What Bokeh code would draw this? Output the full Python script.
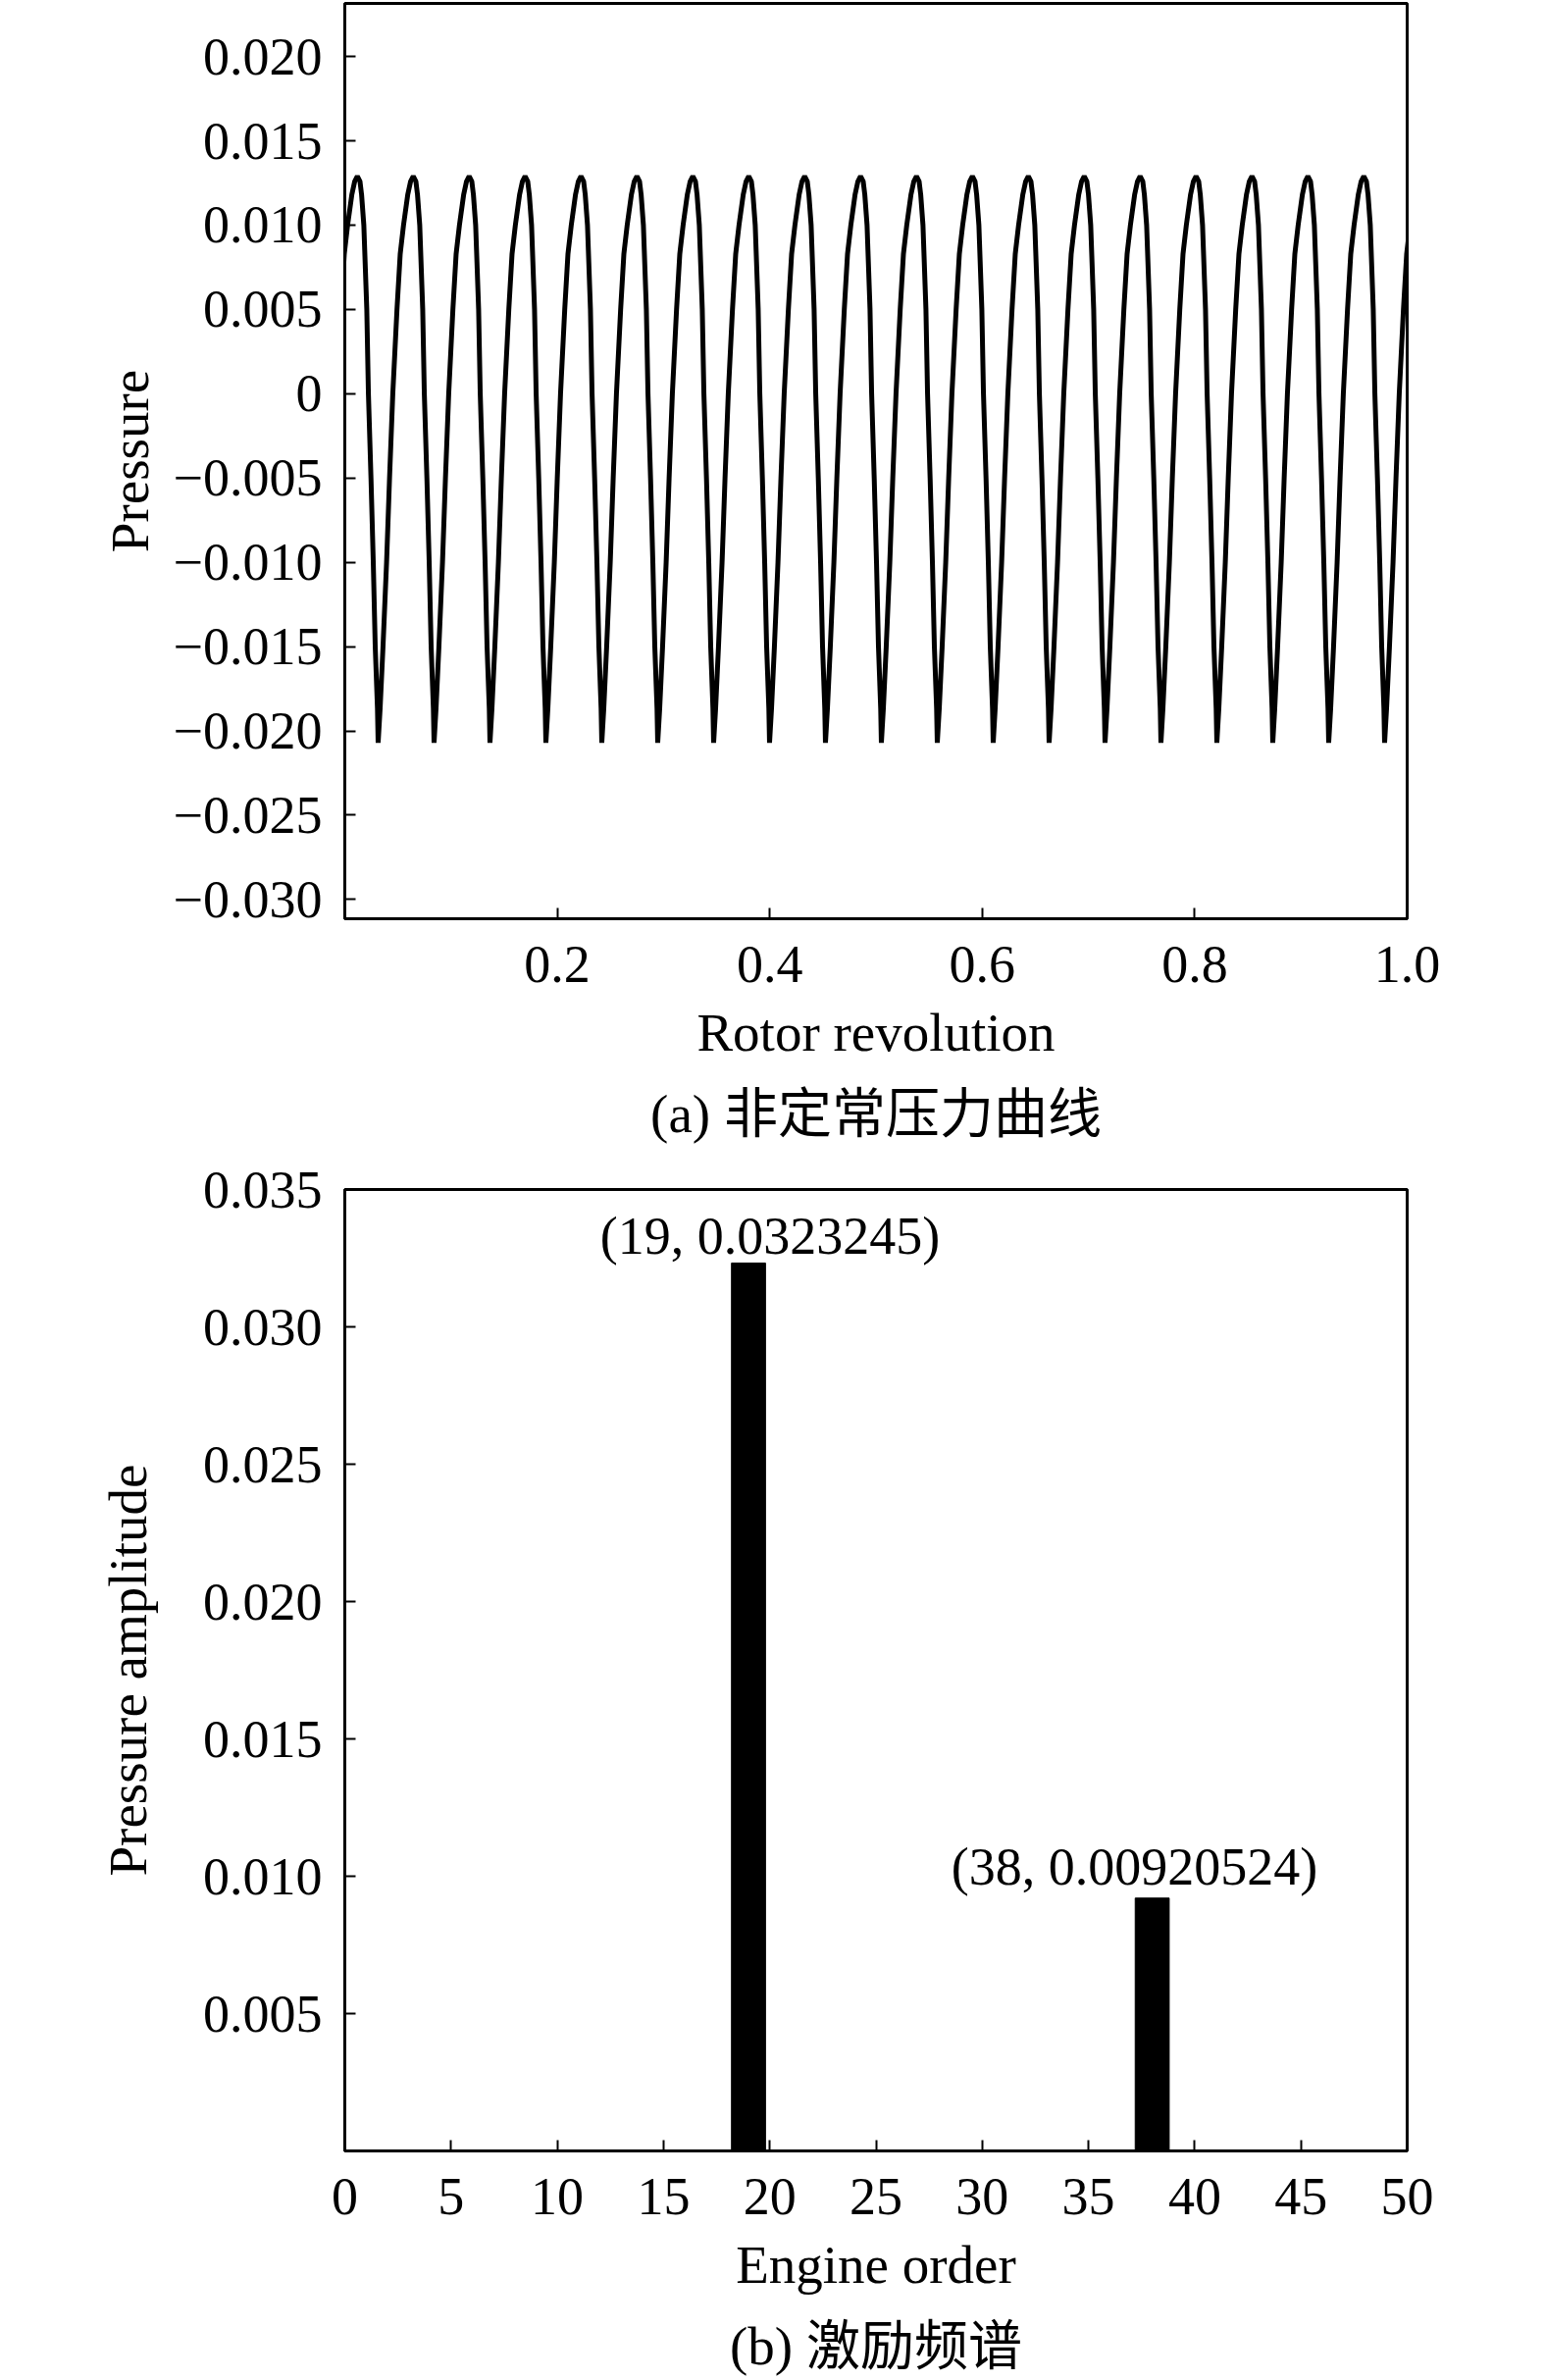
from bokeh.plotting import figure
from bokeh.layouts import column
from bokeh.models import Range1d, FixedTicker, LinearAxis, ColumnDataSource
from bokeh.embed import file_html
from bokeh.resources import INLINE
from bokeh.core.properties import value

# ---------------- data: (a) unsteady pressure over one rotor revolution ----------------
n_periods = 19                      # blade-passing periods per revolution
first_peak_rev = 0.0118             # rotor revolution of the first pressure peak
# one period of the pressure wave (phase 0 = peak)
cycle_phase = [0.000, 0.047, 0.076, 0.116, 0.169, 0.198, 0.244, 0.285, 0.320, 0.360,
               0.372, 0.407, 0.459, 0.523, 0.576, 0.634, 0.709, 0.767, 0.826, 0.901, 0.953]
cycle_pressure = [0.0129, 0.0126, 0.0118, 0.0100, 0.0050, 0.0000, -0.0050, -0.0100, -0.0150, -0.0187,
                  -0.0207, -0.0187, -0.0150, -0.0100, -0.0050, 0.0000, 0.0050, 0.0083, 0.0100, 0.0118, 0.0126]

pressure_ticks = [0.020, 0.015, 0.010, 0.005, 0.0, -0.005, -0.010, -0.015, -0.020, -0.025, -0.030]
pressure_tick_labels = ["0.020", "0.015", "0.010", "0.005", "0", "\u22120.005", "\u22120.010",
                        "\u22120.015", "\u22120.020", "\u22120.025", "\u22120.030"]
revolution_ticks = [0.2, 0.4, 0.6, 0.8, 1.0]
revolution_tick_labels = ["0.2", "0.4", "0.6", "0.8", "1.0"]

# ---------------- data: (b) excitation spectrum ----------------
engine_order = [19, 38]
amplitude = [0.0323245, 0.00920524]
amp_ticks = [0.005, 0.010, 0.015, 0.020, 0.025, 0.030, 0.035]
amp_tick_labels = ["0.005", "0.010", "0.015", "0.020", "0.025", "0.030", "0.035"]
order_ticks = [0, 5, 10, 15, 20, 25, 30, 35, 40, 45, 50]
order_tick_labels = ["0", "5", "10", "15", "20", "25", "30", "35", "40", "45", "50"]

caption_a = "(a) 非定常压力曲线"
caption_b = "(b) 激励频谱"

# ---------------- styling ----------------
SERIF = "Liberation Serif"
MIXED = "Liberation Serif, Noto Sans CJK SC"
TICK_FS = "54px"
LABEL_FS = "55px"
W = 1559
H_A = 1168
H_B = 2426 - H_A


def style_axis(ax, ticks, labels):
    ax.ticker = FixedTicker(ticks=ticks)
    ax.major_label_overrides = {t: l for t, l in zip(ticks, labels)}
    ax.major_label_text_font = SERIF
    ax.major_label_text_font_size = TICK_FS
    ax.major_label_text_color = "black"
    ax.axis_label_text_font = SERIF
    ax.axis_label_text_font_size = LABEL_FS
    ax.axis_label_text_font_style = "normal"
    ax.axis_label_text_color = "black"
    ax.axis_line_color = "black"
    ax.axis_line_width = 3
    ax.major_tick_line_color = "black"
    ax.major_tick_line_width = 2
    ax.major_tick_in = 11
    ax.major_tick_out = 0
    ax.minor_tick_line_color = None


def caption_axis(text):
    ax = LinearAxis(axis_label=text)
    ax.ticker = FixedTicker(ticks=[])
    ax.axis_line_color = None
    ax.major_tick_line_color = None
    ax.minor_tick_line_color = None
    ax.axis_label_text_font = MIXED
    ax.axis_label_text_font_size = LABEL_FS
    ax.axis_label_text_font_style = "normal"
    ax.axis_label_text_color = "black"
    ax.axis_label_standoff = 19
    return ax


def base_fig(height, xr, yr, top, bottom):
    p = figure(width=W, height=height, x_range=xr, y_range=yr,
               output_backend="svg", toolbar_location=None,
               min_border_left=351, min_border_right=W - 1434,
               min_border_top=top, min_border_bottom=bottom)
    p.background_fill_color = "white"
    p.border_fill_color = "white"
    p.outline_line_color = "black"
    p.outline_line_width = 3
    p.xgrid.visible = False
    p.ygrid.visible = False
    return p


# ---------------- (a) ----------------
rev, pres = [], []
for k in range(-1, n_periods + 1):
    for ph, pv in zip(cycle_phase, cycle_pressure):
        rev.append(first_peak_rev + (k + ph) / n_periods)
        pres.append(pv)

pa = base_fig(H_A, Range1d(0, 1.0), Range1d(-0.03114, 0.02315), 3, H_A - 944)
pa.line(rev, pres, line_color="black", line_width=5)
style_axis(pa.xaxis[0], revolution_ticks, revolution_tick_labels)
style_axis(pa.yaxis[0], pressure_ticks, pressure_tick_labels)
pa.xaxis[0].axis_label = "Rotor revolution"
pa.yaxis[0].axis_label = "Pressure"
pa.xaxis[0].major_label_standoff = 28
pa.xaxis[0].axis_label_standoff = 18
pa.yaxis[0].major_label_standoff = 23
pa.yaxis[0].axis_label_standoff = 11
pa.add_layout(caption_axis(caption_a), "below")

# ---------------- (b) ----------------
pb = base_fig(H_B, Range1d(0, 50), Range1d(0, 0.035), 1212 - H_A, 2426 - 2192)
src = ColumnDataSource(dict(order=engine_order, amp=amplitude,
                            txt=["(%s, %s)" % (o, a) for o, a in zip(engine_order, amplitude)],
                            dx=[22, -18], dy=[-27, -32]))
pb.vbar(x="order", top="amp", bottom=0, width=1.6, source=src,
        fill_color="black", line_color="black")
pb.text(x="order", y="amp", text="txt", source=src, x_offset="dx", y_offset="dy",
        text_align="center", text_baseline="alphabetic",
        text_font=value(SERIF), text_font_size="54px", text_color="black")
style_axis(pb.xaxis[0], order_ticks, order_tick_labels)
style_axis(pb.yaxis[0], amp_ticks, amp_tick_labels)
pb.xaxis[0].axis_label = "Engine order"
pb.yaxis[0].axis_label = "Pressure amplitude"
pb.xaxis[0].major_label_standoff = 28
pb.xaxis[0].axis_label_standoff = 18
pb.yaxis[0].major_label_standoff = 23
pb.yaxis[0].axis_label_standoff = 43
pb.add_layout(caption_axis(caption_b), "below")

layout = column(pa, pb, spacing=0)
open("out.html", "w").write(file_html(layout, INLINE))
